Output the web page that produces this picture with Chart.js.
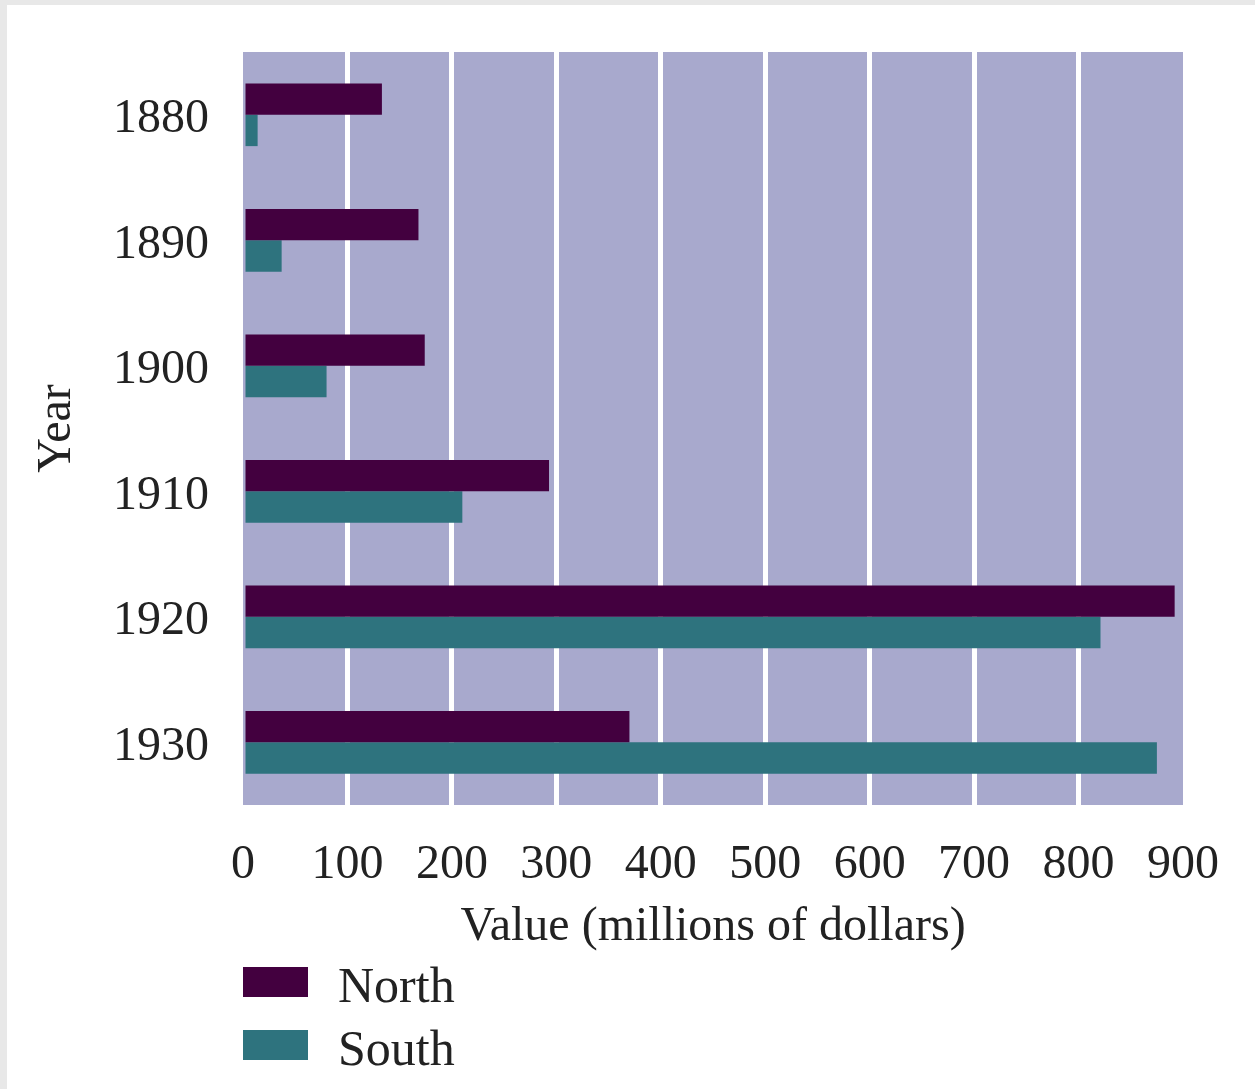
<!DOCTYPE html>
<html>
<head>
<meta charset="utf-8">
<script src="https://cdn.jsdelivr.net/npm/chart.js@4/dist/chart.umd.min.js"></script>
<style>
  html, body { margin: 0; padding: 0; background: #e8e8e8; }
  #wrap { position: absolute; left: 7px; top: 5px; width: 1248px; height: 1084px; background: #ffffff; }
</style>
</head>
<body>
<div id="wrap"><canvas id="c"></canvas></div>
<script>
const years = ['1880', '1890', '1900', '1910', '1920', '1930'];
const northValues = [133, 168, 174, 293, 892, 370];
const southValues = [14, 37, 80, 210, 821, 875];
const seriesNames = ['North', 'South'];
const xTicks = [0, 100, 200, 300, 400, 500, 600, 700, 800, 900];

const FONT = '"Liberation Serif", "DejaVu Serif", serif';
const TEXT = '#222222';

const plotBg = {
  id: 'plotBg',
  beforeDraw(chart) {
    const a = chart.chartArea, ctx = chart.ctx;
    ctx.save();
    ctx.fillStyle = '#a8a9cd';
    ctx.fillRect(a.left, a.top, a.right - a.left, a.bottom - a.top);
    ctx.restore();
  }
};

const stackedLegend = {
  id: 'stackedLegend',
  afterDraw(chart) {
    const ctx = chart.ctx, a = chart.chartArea;
    ctx.save();
    ctx.font = '50px ' + FONT;
    ctx.textBaseline = 'middle';
    chart.data.datasets.forEach((ds, i) => {
      const y = 962 + i * 63;
      ctx.fillStyle = ds.backgroundColor;
      ctx.fillRect(a.left, y, 65, 30);
      ctx.fillStyle = TEXT;
      ctx.fillText(ds.label, a.left + 95, y + 22);
    });
    ctx.restore();
  }
};

new Chart(document.getElementById('c'), {
  type: 'bar',
  data: {
    labels: years,
    datasets: [
      { label: seriesNames[0], data: northValues, backgroundColor: '#43003f' },
      { label: seriesNames[1], data: southValues, backgroundColor: '#2e737e' }
    ]
  },
  options: {
    indexAxis: 'y',
    responsive: true,
    maintainAspectRatio: false,
    animation: false,
    categoryPercentage: 0.5,
    barPercentage: 1.0,
    layout: { padding: { top: 47, right: 72, bottom: 129, left: 18 } },
    plugins: {
      legend: { display: false },
      tooltip: { enabled: false }
    },
    scales: {
      x: {
        type: 'linear',
        min: 0,
        max: 900,
        afterBuildTicks(s) { s.ticks = xTicks.map(v => ({ value: v })); },
        afterFit(s) { s.height = 155; s.paddingLeft = 0; s.paddingRight = 0; },
        border: { display: false },
        grid: {
          drawTicks: false,
          lineWidth: 5,
          color: (c) => (c.tick && (c.tick.value === 0 || c.tick.value === 900)) ? 'rgba(0,0,0,0)' : '#ffffff'
        },
        ticks: { padding: 32, color: TEXT, font: { family: FONT, size: 48 } },
        title: {
          display: true,
          text: 'Value (millions of dollars)',
          color: TEXT,
          font: { family: FONT, size: 48 }
        }
      },
      y: {
        afterFit(s) { s.width = 218; s.paddingTop = 0; s.paddingBottom = 0; },
        border: { display: false },
        grid: { display: false, drawTicks: false },
        ticks: { padding: 34, labelOffset: 5, color: TEXT, font: { family: FONT, size: 48 } },
        title: {
          display: true,
          text: 'Year',
          color: TEXT,
          font: { family: FONT, size: 48 }
        }
      }
    }
  },
  plugins: [plotBg, stackedLegend]
});
</script>
</body>
</html>
